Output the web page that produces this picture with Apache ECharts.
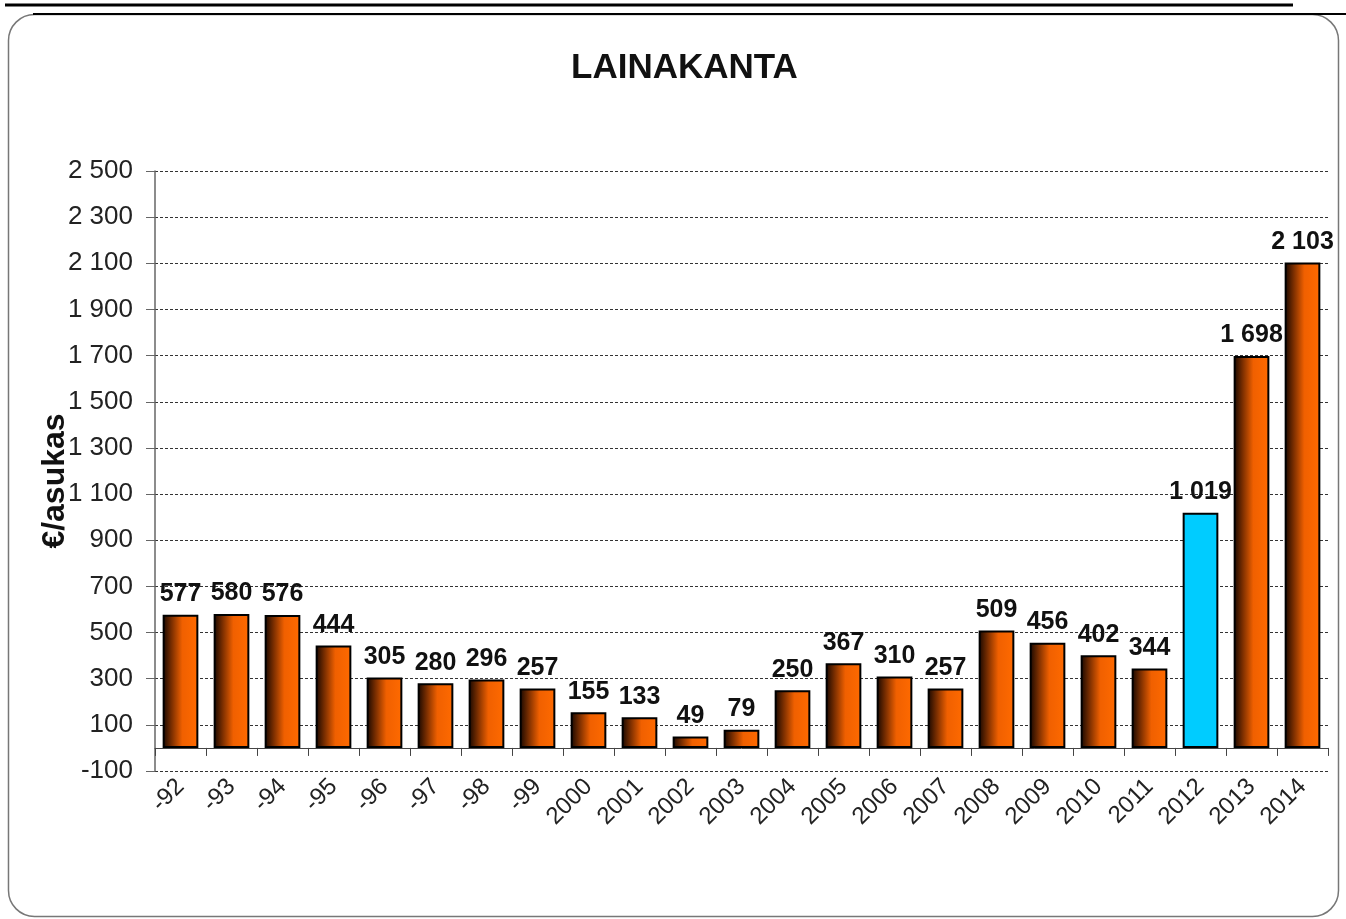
<!DOCTYPE html>
<html>
<head>
<meta charset="utf-8">
<script src="https://cdn.jsdelivr.net/npm/echarts@6/dist/echarts.min.js"></script>
<style>
  html, body { margin: 0; padding: 0; background: #fff; }
  #chart { width: 1346px; height: 919px; }
</style>
</head>
<body>
<div id="chart"></div>
<script>
// vuodet ja lainakanta €/asukas
const years = ['-92', '-93', '-94', '-95', '-96', '-97', '-98', '-99', '2000', '2001', '2002', '2003',
  '2004', '2005', '2006', '2007', '2008', '2009', '2010', '2011', '2012', '2013', '2014'];
const loans = [577, 580, 576, 444, 305, 280, 296, 257, 155, 133, 49, 79,
  250, 367, 310, 257, 509, 456, 402, 344, 1019, 1698, 2103];
const highlightYear = '2012';

const fmt = v => {
  const s = String(Math.abs(v)).replace(/\B(?=(\d{3})+(?!\d))/g, ' ');
  return (v < 0 ? '-' : '') + s;
};

const orange = new echarts.graphic.LinearGradient(0, 0, 1, 0, [
  { offset: 0, color: '#140600' },
  { offset: 0.25, color: '#7a2e00' },
  { offset: 0.55, color: '#f06000' },
  { offset: 1, color: '#ff6a00' }
]);

const barData = loans.map((v, i) => ({
  value: v,
  itemStyle: { color: years[i] === highlightYear ? '#00ccff' : orange }
}));

var myChart = echarts.init(document.getElementById('chart'));
var option = {
  animation: false,
  backgroundColor: '#fff',
  graphic: [
    {
      type: 'rect',
      shape: { x: 8.5, y: 14.5, width: 1330, height: 902, r: 26 },
      style: { fill: 'none', stroke: '#777', lineWidth: 1.5 },
      silent: true
    },
    {
      type: 'line',
      shape: { x1: 33, y1: 14, x2: 1346, y2: 14 },
      style: { stroke: '#000', lineWidth: 2 },
      silent: true
    },
    {
      type: 'line',
      shape: { x1: 5, y1: 5, x2: 1293, y2: 5 },
      style: { stroke: '#000', lineWidth: 3 },
      silent: true
    }
  ],
  title: {
    text: 'LAINAKANTA',
    left: 566,
    top: 46,
    textStyle: { fontFamily: 'Liberation Sans', fontWeight: 'bold', fontSize: 35, color: '#111' }
  },
  grid: { left: 155, right: 18, top: 171, bottom: 148 },
  xAxis: {
    type: 'category',
    data: years,
    axisLine: { onZero: true, lineStyle: { color: '#444', width: 1 } },
    axisTick: { show: true, length: 8, lineStyle: { color: '#444' } },
    axisLabel: {
      rotate: 45,
      margin: 12,
      fontFamily: 'Liberation Sans',
      fontSize: 24,
      color: '#222'
    }
  },
  yAxis: {
    type: 'value',
    min: -100,
    max: 2500,
    interval: 200,
    name: '€/asukas',
    nameLocation: 'middle',
    nameRotate: 90,
    nameGap: 84,
    nameMoveOverlap: false,
    nameTextStyle: {
      fontFamily: 'Liberation Sans', fontWeight: 'bold', fontSize: 32, color: '#111',
      padding: [0, 20, 0, 0]
    },
    axisLine: { show: true, lineStyle: { color: '#666', width: 1.5 } },
    axisTick: { show: true, length: 9, lineStyle: { color: '#666' } },
    axisLabel: {
      formatter: fmt,
      margin: 22,
      fontFamily: 'Liberation Sans',
      fontSize: 26,
      color: '#222'
    },
    splitLine: { show: true, lineStyle: { color: '#333', type: [3, 2], width: 1 } }
  },
  series: [{
    type: 'bar',
    data: barData,
    barCategoryGap: '30%',
    itemStyle: { borderColor: '#000', borderWidth: 2 },
    label: {
      show: true,
      position: 'top',
      distance: 8,
      formatter: p => fmt(p.value),
      fontFamily: "'Liberation Sans Narrow', 'Arial Narrow', 'Liberation Sans', sans-serif",
      fontWeight: 'bold',
      fontSize: 25,
      color: '#111'
    }
  }]
};

option && myChart.setOption(option);
</script>
</body>
</html>
